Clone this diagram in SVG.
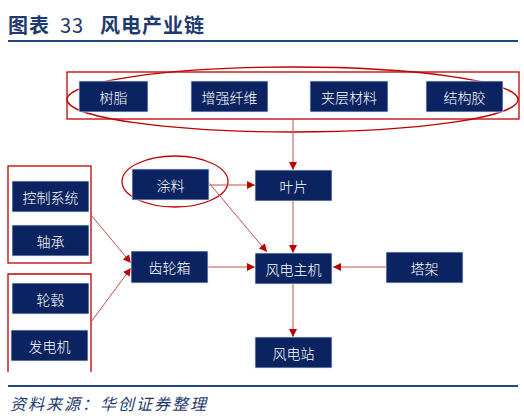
<svg xmlns="http://www.w3.org/2000/svg" width="524" height="419" viewBox="0 0 524 419">
<defs>
<style>
.box{fill:#0B2461;stroke:#DCE3F0;stroke-width:0.8}
.lbl{fill:#FFFFFF;font-family:"Noto Sans CJK SC","Noto Sans",sans-serif;font-size:14px;font-weight:300;text-anchor:middle;dominant-baseline:central}
.frame{fill:none;stroke:#C00000;stroke-width:1.3}
.conn{stroke:#C0504D;stroke-width:1;fill:none;marker-end:url(#ah)}
.rule{stroke:#1F497D;stroke-width:2.2}
</style>
<marker id="ah" viewBox="0 0 10 10" refX="10" refY="5" markerWidth="8" markerHeight="8" markerUnits="userSpaceOnUse" orient="auto">
<path d="M0,0 L10,5 L0,10 z" fill="#C00000"/>
</marker>
</defs>
<rect width="524" height="419" fill="#FFFFFF"/>
<g id="title">
<text y="33" fill="#1F3A6E" font-family="Noto Sans CJK SC,sans-serif" font-size="20" font-weight="bold" letter-spacing="1"><tspan x="8">图表</tspan><tspan x="60" font-weight="normal">33</tspan><tspan x="100">风电产业链</tspan></text>
<line class="rule" x1="8" y1="41" x2="518" y2="41"/>
</g>
<g id="frames">
<rect class="frame" x="67" y="72" width="452" height="47"/>
<ellipse class="frame" cx="292.5" cy="99.5" rx="225.5" ry="32.5"/>
<rect class="frame" x="8" y="166" width="83" height="97"/>
<path class="frame" d="M8,372 V274 H91 V372"/>
<ellipse class="frame" cx="175" cy="181.5" rx="53" ry="25.5"/>
</g>
<g id="connectors">
<line class="conn" x1="293" y1="119" x2="293" y2="170"/>
<line class="conn" x1="209" y1="185" x2="255" y2="185"/>
<line class="conn" x1="209" y1="183" x2="267" y2="252"/>
<line class="conn" x1="293" y1="201" x2="293" y2="253"/>
<line class="conn" x1="91" y1="215" x2="131" y2="263"/>
<line class="conn" x1="91" y1="322" x2="131" y2="268"/>
<line class="conn" x1="208" y1="267" x2="255" y2="267"/>
<line class="conn" x1="386" y1="267" x2="333" y2="267"/>
<line class="conn" x1="293" y1="284" x2="293" y2="337"/>
</g>
<g id="n-shuzhi"><rect class="box" x="79" y="81" width="69" height="31"/><text class="lbl" x="113.5" y="96.5">树脂</text></g>
<g id="n-zengqiang"><rect class="box" x="191" y="81" width="77" height="31"/><text class="lbl" x="229.5" y="96.5">增强纤维</text></g>
<g id="n-jiaceng"><rect class="box" x="310" y="81" width="78" height="31"/><text class="lbl" x="349" y="96.5">夹层材料</text></g>
<g id="n-jiegoujiao"><rect class="box" x="426" y="81" width="77" height="31"/><text class="lbl" x="464.5" y="96.5">结构胶</text></g>
<g id="n-tuliao"><rect class="box" x="132" y="169" width="77" height="31"/><text class="lbl" x="170.5" y="184.5">涂料</text></g>
<g id="n-yepian"><rect class="box" x="255" y="170" width="77" height="31"/><text class="lbl" x="293.5" y="185.5">叶片</text></g>
<g id="n-kongzhi"><rect class="box" x="12" y="181" width="77" height="31"/><text class="lbl" x="50.5" y="196.5">控制系统</text></g>
<g id="n-zhoucheng"><rect class="box" x="12" y="225" width="77" height="31"/><text class="lbl" x="50.5" y="240.5">轴承</text></g>
<g id="n-chilunxiang"><rect class="box" x="131" y="251" width="77" height="32"/><text class="lbl" x="169.5" y="267">齿轮箱</text></g>
<g id="n-zhuji"><rect class="box" x="255" y="253" width="77" height="31"/><text class="lbl" x="293.5" y="268.5">风电主机</text></g>
<g id="n-tajia"><rect class="box" x="386" y="252" width="77" height="31"/><text class="lbl" x="424.5" y="267.5">塔架</text></g>
<g id="n-lungu"><rect class="box" x="12" y="283" width="77" height="31"/><text class="lbl" x="50.5" y="298.5">轮毂</text></g>
<g id="n-fadianji"><rect class="box" x="11" y="330" width="77" height="31"/><text class="lbl" x="49.5" y="345.5">发电机</text></g>
<g id="n-fengdianzhan"><rect class="box" x="255" y="337" width="77" height="31"/><text class="lbl" x="293.5" y="352.5">风电站</text></g>
<g id="source">
<line class="rule" x1="8" y1="386" x2="518" y2="386"/>
<text x="10" y="410" fill="#1F3A6E" font-family="Noto Sans CJK SC,sans-serif" font-size="16" font-style="italic" letter-spacing="2">资料来源：华创证券整理</text>
</g>
</svg>
